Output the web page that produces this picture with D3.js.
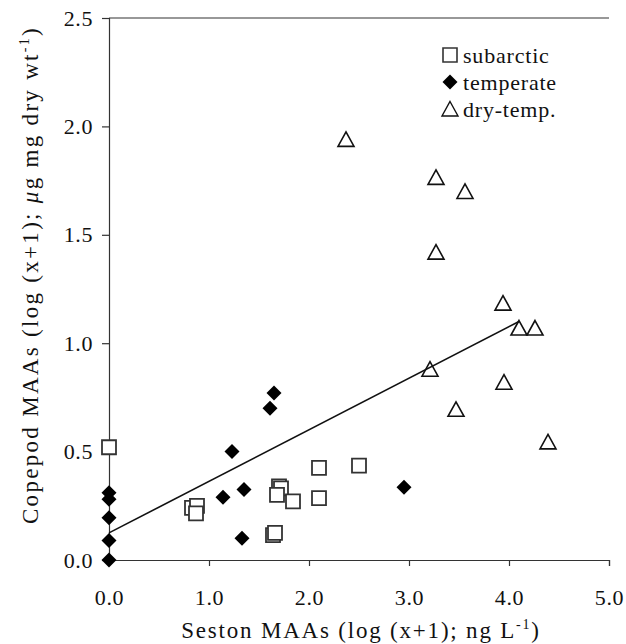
<!DOCTYPE html>
<html><head><meta charset="utf-8">
<script src="https://cdn.jsdelivr.net/npm/d3@7/dist/d3.min.js"></script>
<style>body{margin:0;background:#fff}svg text{font-family:"Liberation Serif","Times New Roman",Times,Tinos,"DejaVu Serif",serif;fill:#111}</style>
</head><body>
<svg id="chart" width="626" height="644"></svg>
<script>
// Data
const subarcticX = [0.00, 0.83, 0.88, 0.87, 1.64, 1.66, 1.70, 1.72, 1.68, 1.84, 2.10, 2.10, 2.50];
const subarcticY = [0.52, 0.24, 0.25, 0.215, 0.115, 0.125, 0.34, 0.33, 0.30, 0.27, 0.425, 0.285, 0.435];
const temperateX = [0.00, 0.00, 0.00, 0.00, 0.00, 1.14, 1.23, 1.35, 1.33, 1.61, 1.65, 2.95];
const temperateY = [0.31, 0.28, 0.195, 0.09, 0.00, 0.29, 0.50, 0.325, 0.10, 0.70, 0.77, 0.335];
const dryTempX = [2.37, 3.27, 3.56, 3.27, 3.94, 4.10, 4.26, 3.21, 3.95, 3.47, 4.39];
const dryTempY = [1.94, 1.765, 1.70, 1.42, 1.185, 1.07, 1.07, 0.88, 0.82, 0.695, 0.545];
const regX = [0.0, 4.1];
const regY = [0.125, 1.10];
const xTicks = [0, 1, 2, 3, 4, 5];
const yTicks = [0, 0.5, 1, 1.5, 2, 2.5];
const legendLabels = ["subarctic", "temperate", "dry-temp."];

const FONT = "'Liberation Serif','Times New Roman',Times,Tinos,'DejaVu Serif',serif";
const svg = d3.select("#chart");
const m = {left:109, top:18, right:17, bottom:84};
const W = 626 - m.left - m.right, H = 644 - m.top - m.bottom;
const x = d3.scaleLinear().domain([0,5]).range([m.left, m.left+W]);
const y = d3.scaleLinear().domain([0,2.5]).range([m.top+H, m.top]);

// axes
const xAxis = svg.append("g").attr("transform",`translate(0,${m.top+H})`)
  .call(d3.axisBottom(x).tickValues(xTicks).tickSize(6).tickFormat(d3.format(".1f")));
const yAxis = svg.append("g").attr("transform",`translate(${m.left},0)`)
  .call(d3.axisLeft(y).tickValues(yTicks).tickSize(7).tickFormat(d3.format(".1f")));
[xAxis,yAxis].forEach(a=>{
  a.attr("font-family",FONT).attr("font-size",22);
  a.select(".domain").attr("stroke","#333").attr("stroke-width",1.2);
  a.selectAll(".tick line").attr("stroke","#333").attr("stroke-width",1.2);
  a.selectAll("text").attr("fill","#111").style("letter-spacing","0.6px");
});
xAxis.selectAll(".tick").filter(d=>d===0).select("line").remove();
xAxis.selectAll("text").attr("y",29).attr("dy","0.71em");
yAxis.selectAll("text").attr("x",-16);
// top frame line
svg.append("line").attr("x1",m.left).attr("x2",m.left+W).attr("y1",m.top).attr("y2",m.top)
  .attr("stroke","#333").attr("stroke-width",1.2);

// regression line
svg.append("line").attr("x1",x(regX[0])).attr("y1",y(regY[0])).attr("x2",x(regX[1])).attr("y2",y(regY[1]))
  .attr("stroke","#111").attr("stroke-width",1.6);

// marker shapes
const sqPath = "M-7,-7H7V7H-7Z";
const diaPath = "M0,-7.5L7.5,0L0,7.5L-7.5,0Z";
const triPath = "M0,-7.5L8,7L-8,7Z";

const sub = subarcticX.map((v,i)=>[v,subarcticY[i]]);
const tem = temperateX.map((v,i)=>[v,temperateY[i]]);
const dry = dryTempX.map((v,i)=>[v,dryTempY[i]]);

svg.append("g").selectAll("path").data(sub).join("path")
  .attr("d",sqPath).attr("transform",d=>`translate(${x(d[0])},${y(d[1])})`)
  .attr("fill","#fff").attr("stroke","#333").attr("stroke-width",1.8);
svg.append("g").selectAll("path").data(tem).join("path")
  .attr("d",diaPath).attr("transform",d=>`translate(${x(d[0])},${y(d[1])})`)
  .attr("fill","#000");
svg.append("g").selectAll("path").data(dry).join("path")
  .attr("d",triPath).attr("transform",d=>`translate(${x(d[0])},${y(d[1])})`)
  .attr("fill","none").attr("stroke","#111").attr("stroke-width",1.6);

// legend
const lg = svg.append("g").attr("font-family",FONT).attr("font-size",22);
const lgShapes = [sqPath, diaPath, triPath];
legendLabels.forEach((t,i)=>{
  const cy = 55 + i*27;
  const p = lg.append("path").attr("d",lgShapes[i]).attr("transform",`translate(450,${cy})`);
  if(i===0) p.attr("fill","#fff").attr("stroke","#333").attr("stroke-width",1.6);
  else if(i===1) p.attr("fill","#000");
  else p.attr("fill","none").attr("stroke","#111").attr("stroke-width",1.4);
  lg.append("text").attr("x",463).attr("y",cy+8).style("letter-spacing","0.8px").text(t);
});

// x title
const xt = svg.append("text").attr("x",361).attr("y",638).attr("text-anchor","middle")
  .attr("font-family",FONT).attr("font-size",23).style("letter-spacing","1.8px");
xt.append("tspan").text("Seston MAAs (log (x+1); ng L");
xt.append("tspan").attr("dy",-9).attr("font-size",14).text("-1");
xt.append("tspan").attr("dy",9).text(")");

// y title
const yt = svg.append("text").attr("transform",`translate(38,${m.top+H/2 - 14}) rotate(-90)`).attr("text-anchor","middle")
  .attr("font-family",FONT).attr("font-size",23).style("letter-spacing","2.3px");
yt.append("tspan").text("Copepod MAAs (log (x+1); ");
yt.append("tspan").attr("font-style","italic").text("μ");
yt.append("tspan").text("g mg dry wt");
yt.append("tspan").attr("dy",-9).attr("font-size",14).text("-1");
yt.append("tspan").attr("dy",9).text(")");
</script>
</body></html>
